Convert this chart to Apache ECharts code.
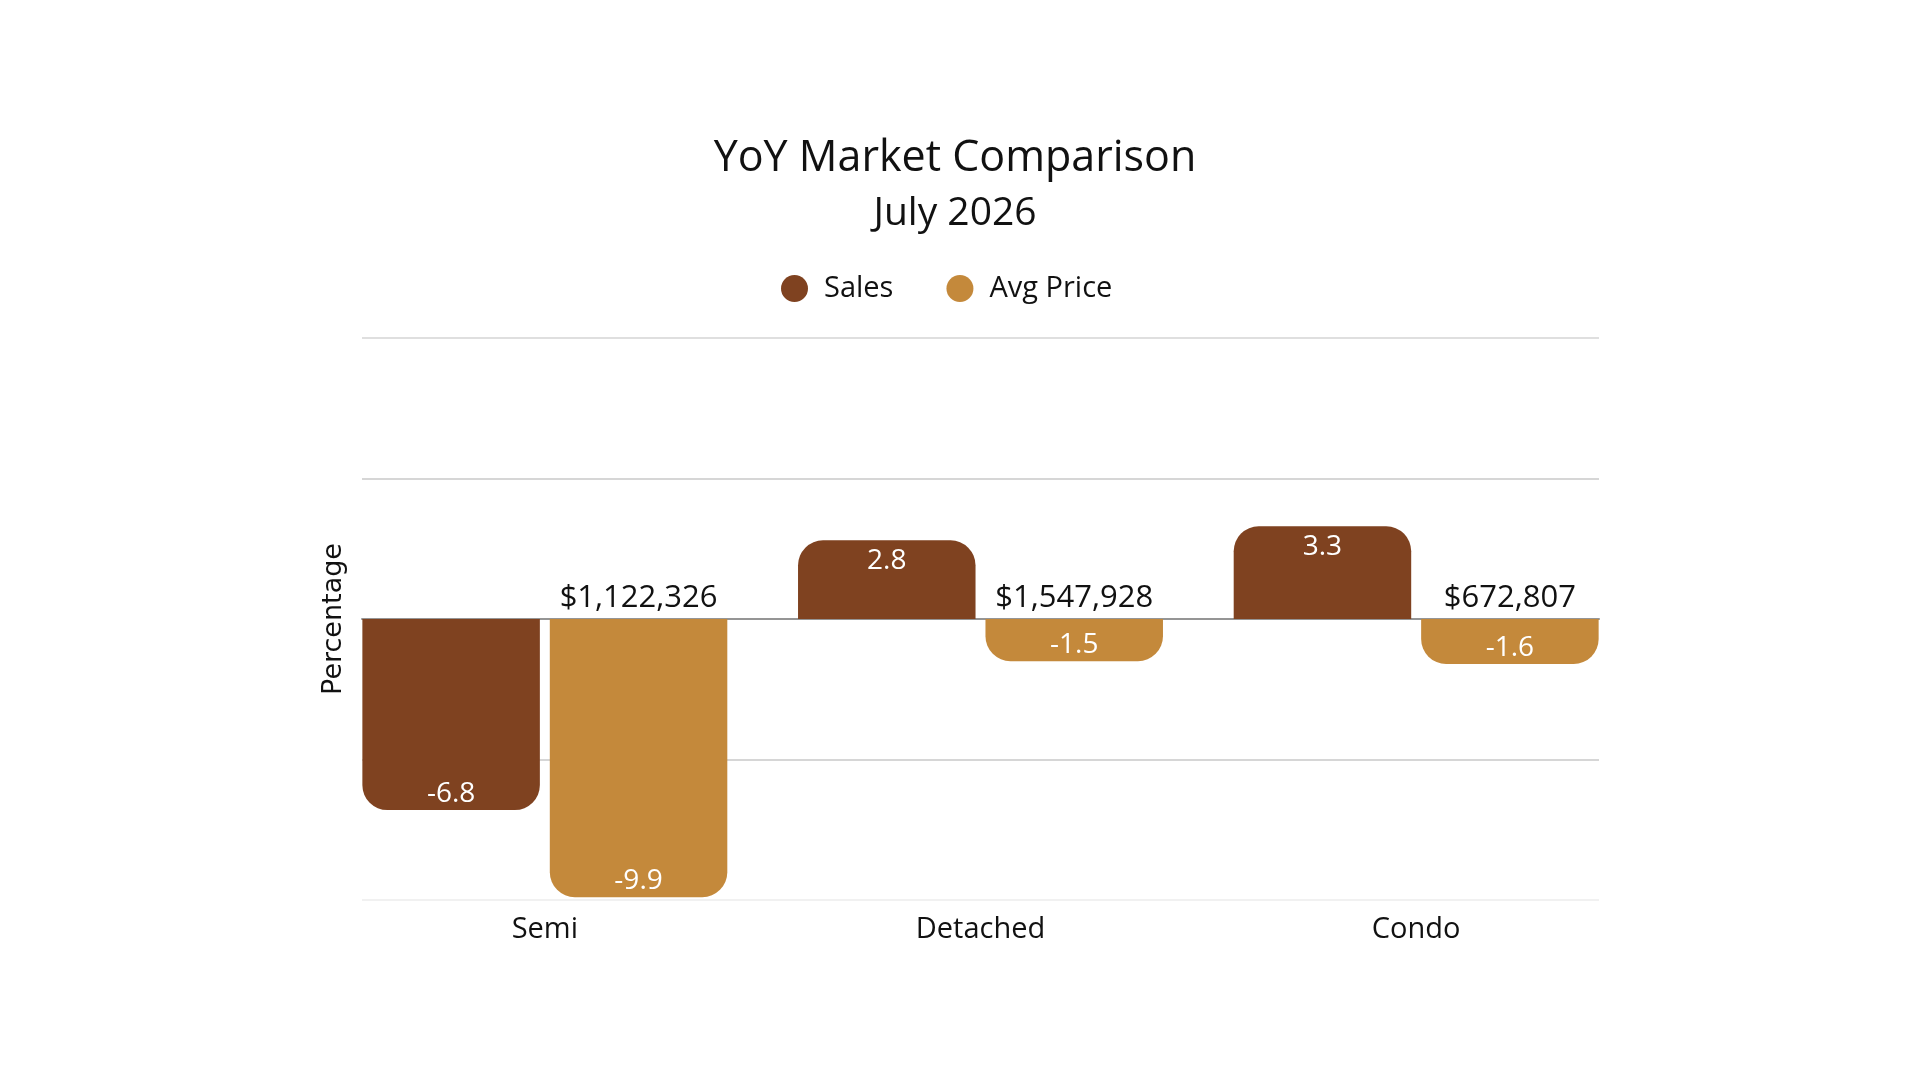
<!DOCTYPE html>
<html>
<head>
<meta charset="utf-8">
<script src="https://cdn.jsdelivr.net/npm/echarts@6/dist/echarts.min.js"></script>
<style>html,body{margin:0;padding:0;background:#fff;}#c{width:1920px;height:1080px;}</style>
</head>
<body>
<div id="c"></div>
<script>
const categories = ['Semi', 'Detached', 'Condo'];
const salesValues = [-6.8, 2.8, 3.3];
const avgPriceValues = [-9.9, -1.5, -1.6];
const avgPriceLabels = ['$1,122,326', '$1,547,928', '$672,807'];
const yTicks = [-10, -5, 0, 5, 10];

const SALES_COLOR = '#7f4220';
const AVG_COLOR = '#c4893b';
const FONT = '"Open Sans", "Noto Sans", sans-serif';
const R = 25;

function barItems(vals, color, withLabel) {
  return vals.map(v => ({
    value: v,
    itemStyle: { color: color, borderRadius: v >= 0 ? [R, R, 0, 0] : [0, 0, R, R] },
    label: withLabel ? { position: v >= 0 ? 'insideTop' : 'insideBottom', distance: v >= 0 ? 7 : 2 } : undefined
  }));
}

const chart = echarts.init(document.getElementById('c'));
const valueLabel = {
  show: true, color: '#ffffff', fontSize: 28, fontFamily: FONT
};
chart.setOption({
  backgroundColor: '#ffffff',
  animation: false,
  title: [
    { text: 'YoY Market Comparison', left: 950, textAlign: 'center', top: 132,
      textStyle: { fontSize: 43, fontWeight: 'normal', color: '#111111', fontFamily: FONT } },
    { text: 'July 2026', left: 950, textAlign: 'center', top: 189,
      textStyle: { fontSize: 39, fontWeight: 'normal', color: '#111111', fontFamily: FONT } }
  ],
  legend: {
    data: ['Sales', 'Avg Price'],
    left: 781, top: 274, padding: 0,
    icon: 'circle', itemWidth: 27, itemHeight: 27, itemGap: 53,
    textStyle: { fontSize: 29, color: '#111111', fontFamily: FONT, padding: [0, 0, 0, 11] }
  },
  grid: [
    { left: 327, right: 286, top: 338, bottom: 180 },
    { left: 362, right: 321, top: 338, bottom: 180 }
  ],
  xAxis: [
    { type: 'category', gridIndex: 0, data: categories,
      axisLine: { show: false }, axisTick: { show: false },
      axisLabel: { fontSize: 29, color: '#111111', fontFamily: FONT, margin: 15 } },
    { type: 'category', gridIndex: 0, data: categories, show: false },
    { type: 'category', gridIndex: 1, data: categories,
      axisLine: { show: true, onZero: true, lineStyle: { color: '#959595', width: 2 } },
      axisTick: { show: false }, axisLabel: { show: false } }
  ],
  yAxis: [
    { type: 'value', gridIndex: 0, min: yTicks[0], max: yTicks[yTicks.length - 1], interval: 5,
      axisLine: { show: false }, axisTick: { show: false }, axisLabel: { show: false }, splitLine: { show: false } },
    { type: 'value', gridIndex: 1, min: yTicks[0], max: yTicks[yTicks.length - 1], interval: 5,
      name: 'Percentage', nameLocation: 'middle', nameRotate: 90, nameGap: 15,
      nameTextStyle: { fontSize: 27, color: '#111111', fontFamily: '"DejaVu Sans", sans-serif' },
      axisLine: { show: false }, axisTick: { show: false }, axisLabel: { show: false },
      splitLine: { show: true, lineStyle: { color: ['#ececec', '#c8c8c8', '#c8c8c8', '#c8c8c8', '#d4d4d4'], width: 1.5 } } }
  ],
  series: [
    { name: 'Sales', type: 'bar', xAxisIndex: 0, yAxisIndex: 0, barWidth: 177.5, barGap: '5.6%',
      itemStyle: { color: SALES_COLOR },
      data: barItems(salesValues, SALES_COLOR, true),
      label: valueLabel, z: 3 },
    { name: 'Avg Price', type: 'bar', xAxisIndex: 0, yAxisIndex: 0, barWidth: 177.5, barGap: '5.6%',
      itemStyle: { color: AVG_COLOR },
      data: barItems(avgPriceValues, AVG_COLOR, false),
      label: { show: true, position: 'top', distance: 5, color: '#111111', fontSize: 31, fontFamily: FONT,
        formatter: p => avgPriceLabels[p.dataIndex] }, z: 3 },
    { name: '_pad', type: 'bar', xAxisIndex: 1, yAxisIndex: 0, barWidth: 177.5, barGap: '5.6%',
      data: categories.map(() => '-') },
    { name: '_avgValue', type: 'bar', xAxisIndex: 1, yAxisIndex: 0, barWidth: 177.5, barGap: '5.6%',
      itemStyle: { color: 'rgba(0,0,0,0)' },
      data: avgPriceValues,
      label: Object.assign({}, valueLabel, { position: 'insideBottom', distance: 2 }), z: 4 }
  ]
});
</script>
</body>
</html>
